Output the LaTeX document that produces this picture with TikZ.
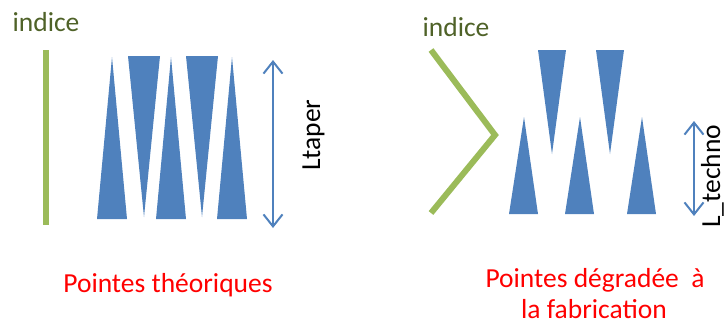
\documentclass[tikz,border=0pt]{standalone}
\usepackage{fontspec}
\setmainfont{Carlito}
\usetikzlibrary{arrows.meta, positioning}

\definecolor{tipblue}{HTML}{4F81BD}
\definecolor{indexgreen}{HTML}{9BBB59}
\definecolor{indextext}{HTML}{4F6228}

\begin{document}
\begin{tikzpicture}[
  x=1pt, y=-1pt,
  every node/.style={font=\fontsize{27.5}{31}\selectfont, inner sep=0},
  tip/.style={fill=tipblue, draw=none},
  index/.style={draw=indexgreen, line width=6pt},
  indexlabel/.style={text=indextext},
  caption/.style={text=red, anchor=base},
  dimarrow/.style={{Straight Barb[length=12pt, width=19pt]}-{Straight Barb[length=12pt, width=19pt]},
    draw=tipblue, line width=2pt},
  dimlabel/.style={rotate=90, anchor=base}]

  \useasboundingbox (0,0) rectangle (726,325);

  % Left: theoretical tips
  \node[indexlabel] (indexl) at (46,22) {indice};
  \coordinate (barl) at (46,50);
  \coordinate (barlbot) at (46,225);
  \draw[index] (barl) -- (barlbot);

  \foreach \x in {112,171,232}
    \fill[tip] (\x-15,219) -- (\x,57) -- (\x+15,219) -- cycle;
  \foreach \x in {144,202}
    \fill[tip] (\x-16,56) -- (\x+16,56) -- (\x,217) -- cycle;

  \coordinate (ltop) at (273,60);
  \coordinate (lbot) at (273,228);
  \draw[dimarrow] (ltop) -- (lbot);
  \node[dimlabel] (ltaper) at (320,135) {Ltaper};

  \node[caption] (theory) at (168,292) {Pointes théoriques};

  % Right: tips degraded by fabrication
  \node[indexlabel] (indexr) at (456,27) {indice};
  \coordinate (chevtop) at (431,50);
  \coordinate (chevtip) at (495,135);
  \coordinate (chevbot) at (431,213);
  \draw[index] (chevtop) -- (chevtip) -- (chevbot);

  \foreach \x in {524,580,642}
    \fill[tip] (\x-15,214) -- (\x,117) -- (\x+14,214) -- cycle;
  \foreach \x in {552,610}
    \fill[tip] (\x-14,50) -- (\x+14,50) -- (\x,154) -- cycle;

  \coordinate (rtop) at (694,121);
  \coordinate (rbot) at (694,216);
  \draw[dimarrow] (rtop) -- (rbot);
  \node[dimlabel, anchor=base west] (ltechno) at (720,228) {L\_techno};

  \node[caption] (degraded) at (595,287) {Pointes dégradée~ à};
  \node[caption] (fab) at (594,318) {la fabrication};

\end{tikzpicture}
\end{document}
